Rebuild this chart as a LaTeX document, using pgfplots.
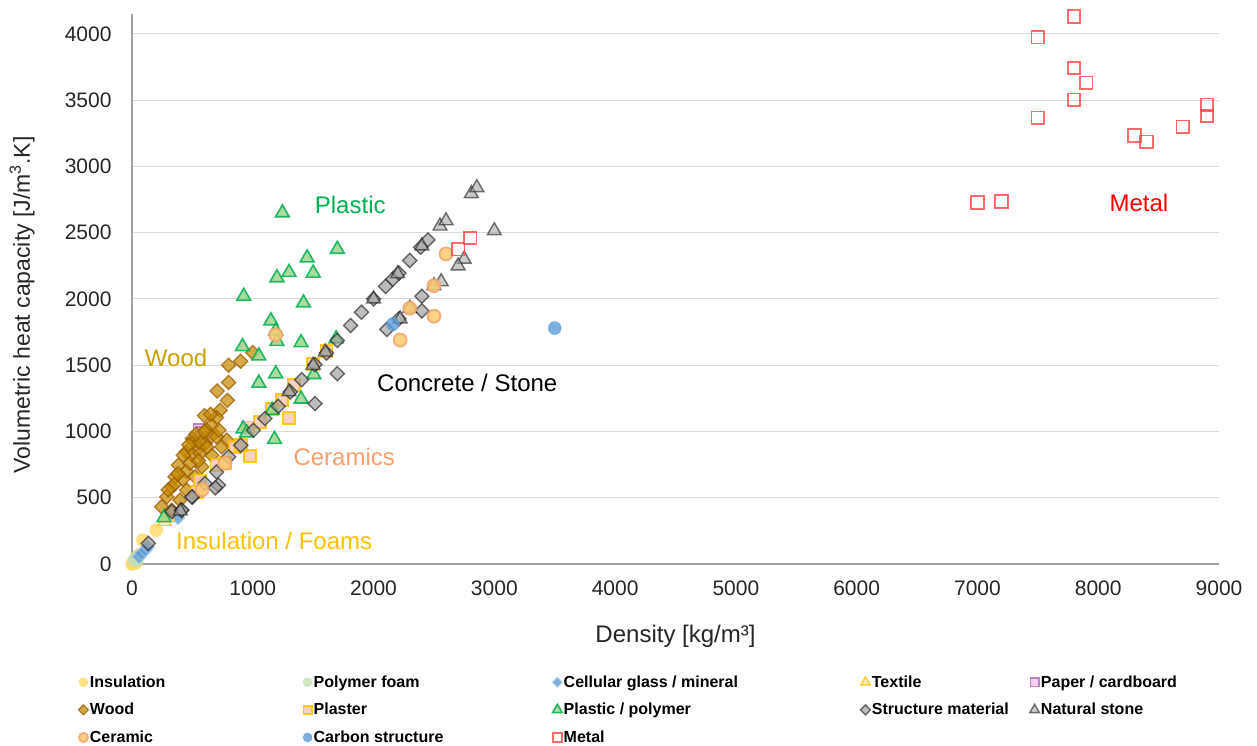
\documentclass[border=0pt]{standalone}
\usepackage{fontspec}
\setmainfont{Liberation Sans}
\usepackage{pgfplots}
\pgfplotsset{compat=1.18}
\definecolor{insF}{HTML}{FFD966}
\definecolor{pfF}{HTML}{C5E0B4}
\definecolor{cgF}{HTML}{5B9BD5}
\definecolor{cgD}{HTML}{9DC3E6}
\definecolor{txF}{HTML}{FFE699}
\definecolor{txD}{HTML}{FFC000}
\definecolor{ppF}{HTML}{F2C4E6}
\definecolor{ppD}{HTML}{A66BBE}
\definecolor{wdF}{HTML}{C58A00}
\definecolor{wdD}{HTML}{9A5B00}
\definecolor{plF}{HTML}{F8CBAD}
\definecolor{plD}{HTML}{FFC000}
\definecolor{psF}{HTML}{9BD48C}
\definecolor{psD}{HTML}{00B050}
\definecolor{stF}{HTML}{9A9A9A}
\definecolor{stD}{HTML}{262626}
\definecolor{nsF}{HTML}{A6A6A6}
\definecolor{nsD}{HTML}{1A1A1A}
\definecolor{ceF}{HTML}{F9CB72}
\definecolor{ceD}{HTML}{F4A26B}
\definecolor{cbF}{HTML}{5B9BD5}
\definecolor{mtD}{HTML}{FF4F4F}
\definecolor{gridc}{HTML}{D9D9D9}
\definecolor{axc}{HTML}{A0A0A0}
\definecolor{woodtxt}{HTML}{C9A000}
\definecolor{cerTxt}{HTML}{F7A06E}
\definecolor{insTxt}{HTML}{FFC000}
\begin{document}
\begin{tikzpicture}
\begin{axis}[
  scale only axis, width=1087pt, height=550pt,
  xmin=0, xmax=9000, ymin=0, ymax=4150,
  xtick={0,1000,...,9000}, ytick={0,500,...,4000},
  axis lines=left, axis line style={-, draw=axc, line width=1.2pt},
  major tick length=0pt,
  ymajorgrids, grid style={draw=gridc, line width=1pt},
  /pgf/number format/1000 sep={},
  /pgf/number format/assume math mode=true,
  tick label style={font=\fontsize{21}{25}\selectfont, text=black!85},
  yticklabel style={xshift=-17pt},
  xticklabel style={yshift=-13pt},
  xlabel={Density [kg/m³]},
  ylabel={Volumetric heat capacity [J/m\textsuperscript{3}.K]},
  xlabel style={font=\fontsize{24}{28}\selectfont, text=black!85, at={(rel axis cs:0.5,-0.131)}, anchor=center},
  ylabel style={font=\fontsize{23}{27}\selectfont, text=black!85, at={(rel axis cs:-0.101,0.471)}, anchor=center, rotate=0},
  clip=false,
  legend columns=5,
  legend style={draw=none, fill=none, inner sep=0pt, at={(rel axis cs:-0.0496,-0.2)}, anchor=north west,
    font=\bfseries\fontsize{16}{19}\selectfont, legend cell align=left,
    nodes={inner sep=1.5pt},
    row sep=11.5pt, /tikz/every even column/.style={column sep=0pt}},
  every axis plot post/.append style={only marks,
    legend image code/.code={\path (-5pt,-5pt) (0.5pt,5pt);
      \draw[##1, every mark/.append style={scale=0.7}] plot coordinates {(0pt,0pt)};}},
]
\coordinate (bbsw) at (rel axis cs:-0.12144,-0.32909);
\coordinate (bbne) at (rel axis cs:1.03496,1.02545);

% Insulation
\addplot[mark=*, mark size=6.5pt, mark options={fill=insF, draw=insF, fill opacity=0.8, draw opacity=0.8}] coordinates {
(10,10) (20,20) (30,30) (40,50) (60,70) (90,180) (200,255) (15,5) (35,10) (0,0)
};
\addlegendentry{\makebox[211pt][l]{Insulation}}
% Polymer foam
\addplot[mark=*, mark size=6.5pt, mark options={fill=pfF, draw=pfF, fill opacity=0.8, draw opacity=0.8}] coordinates {
(20,30) (30,40) (50,60) (40,25)
};
\addlegendentry{\makebox[237pt][l]{Polymer foam}}
% Cellular glass
\addplot[mark=square*, mark size=4.8pt, mark options={rotate=45, fill=cgF, draw=cgD, line width=1pt, fill opacity=0.8, draw opacity=0.8}] coordinates {
(60,55) (80,80) (110,105) (130,130) (380,350)
};
\addlegendentry{\makebox[295pt][l]{Cellular glass / mineral}}
% Textile
\addplot[mark=triangle*, mark size=8pt, mark options={fill=txF, draw=txD, line width=1.2pt, fill opacity=0.8, draw opacity=0.8}] coordinates {
(270,320) (300,350)
};
\addlegendentry{\makebox[156pt][l]{Textile}}
% Paper
\addplot[mark=square*, mark size=6pt, mark options={fill=ppF, draw=ppD, line width=1.4pt, fill opacity=0.8, draw opacity=0.8}] coordinates {
(560,1010) (580,990)
};
\addlegendentry{Paper / cardboard}
% Wood
\addplot[mark=square*, mark size=5pt, mark options={rotate=45, fill=wdF, draw=wdD, line width=1.3pt, fill opacity=0.72, draw opacity=0.72}] coordinates {
(1000,1595) (900,1530) (800,1500) (800,1370) (705,1305) (790,1235) (730,1160) (700,1105)
(600,1120) (660,1047) (615,1010) (655,964) (605,909) (500,945) (785,935) (743,884)
(550,872) (448,846) (495,821) (564,834) (510,920) (560,921) (425,821) (660,821)
(384,746) (578,733) (356,658) (522,658) (329,582) (453,557) (288,507) (398,482)
(246,432) (329,407) (450,700) (480,760) (420,640) (550,780) (620,880) (700,960)
(350,600) (300,560) (380,680) (470,900) (530,980) (650,1130) (600,1000) (720,1010)
};
\addlegendentry{\makebox[211pt][l]{Wood}}
% Plaster
\addplot[mark=square*, mark size=6pt, mark options={fill=plF, draw=plD, line width=1.8pt, fill opacity=0.85, draw opacity=0.85}] coordinates {
(1300,1100) (980,815) (1610,1605) (1500,1507) (1340,1350) (1240,1240) (1160,1170)
(1060,1070) (960,1030) (850,885) (770,760) (560,630) (540,545) (900,900) (700,750)
};
\addlegendentry{\makebox[237pt][l]{Plaster}}
% Plastic / polymer
\addplot[mark=triangle*, mark size=8pt, mark options={fill=psF, draw=psD, line width=1.6pt, fill opacity=0.85, draw opacity=0.85}] coordinates {
(1245,2650) (1700,2375) (1450,2310) (1300,2200) (1500,2195) (1200,2160) (925,2020)
(1420,1970) (1150,1835) (1200,1680) (1190,1760) (915,1640) (1400,1670) (1050,1570)
(1190,1435) (1050,1365) (1505,1430) (1400,1245) (1160,1160) (1180,940) (920,1020)
(950,990) (265,350) (1690,1700)
};
\addlegendentry{\makebox[295pt][l]{Plastic / polymer}}
% Structure material
\addplot[mark=square*, mark size=5pt, mark options={rotate=45, fill=stF, draw=stD, line width=1.4pt, fill opacity=0.65, draw opacity=0.65}] coordinates {
(330,395) (410,405) (500,505) (605,608) (700,695) (800,808) (900,896) (1005,1009)
(1100,1098) (1210,1190) (1310,1298) (1405,1391) (1515,1504) (1610,1592) (1700,1687)
(1810,1800) (1900,1900) (2000,2000) (2100,2095) (2160,2150) (2210,2195) (2300,2290)
(2390,2390) (2450,2445) (2400,2020) (2400,1910) (2210,1850) (2110,1770) (1700,1436)
(1515,1210) (715,595) (690,575) (135,156) (495,507) (412,407)
};
\addlegendentry{\makebox[156pt][l]{Structure material}}
% Natural stone
\addplot[mark=triangle*, mark size=8pt, mark options={fill=nsF, draw=nsD, line width=1.4pt, fill opacity=0.6, draw opacity=0.6}] coordinates {
(400,400) (1300,1300) (1500,1500) (1600,1600) (2000,2000) (2200,2190) (2400,2400)
(2550,2550) (2600,2590) (2810,2795) (2855,2840) (3000,2515) (2750,2300) (2700,2250)
(2560,2130) (2220,1850) (2500,2100) (2300,1930)
};
\addlegendentry{Natural stone}
% Ceramic
\addplot[mark=*, mark size=6.5pt, mark options={fill=ceF, draw=ceD, line width=1.8pt, fill opacity=0.85, draw opacity=0.85}] coordinates {
(2600,2340) (2500,2100) (2300,1930) (2500,1870) (2220,1690) (1190,1730) (770,760) (580,560)
};
\addlegendentry{\makebox[211pt][l]{Ceramic}}
% Carbon structure
\addplot[mark=*, mark size=6.5pt, mark options={fill=cbF, draw=cbF, fill opacity=0.8, draw opacity=0.8}] coordinates {
(2160,1810) (3500,1780)
};
\addlegendentry{\makebox[237pt][l]{Carbon structure}}
% Metal
\addplot[mark=square, mark size=6.3pt, mark options={draw=mtD, line width=1.8pt, draw opacity=0.85}] coordinates {
(7800,4130) (7500,3975) (7800,3742) (7900,3631) (7800,3503) (7500,3367) (8300,3234)
(8400,3186) (8700,3299) (8900,3465) (8900,3380) (7000,2727) (7200,2734) (2800,2460) (2700,2375)
};
\addlegendentry{Metal}

\node[text=psD, font=\fontsize{24}{28}\selectfont] at (axis cs:1807,2712) {Plastic};
\node[text=red, font=\fontsize{24}{28}\selectfont] at (axis cs:8337,2727) {Metal};
\node[text=woodtxt, font=\fontsize{24}{28}\selectfont] at (axis cs:365,1552) {Wood};
\node[text=black, font=\fontsize{24}{28}\selectfont] at (axis cs:2776,1363) {Concrete / Stone};
\node[text=cerTxt, font=\fontsize{24}{28}\selectfont] at (axis cs:1757,806) {Ceramics};
\node[text=insTxt, font=\fontsize{24}{28}\selectfont] at (axis cs:1177,173) {Insulation / Foams};
\end{axis}
\pgfresetboundingbox
\path (bbsw) rectangle (bbne);
\end{tikzpicture}
\end{document}
